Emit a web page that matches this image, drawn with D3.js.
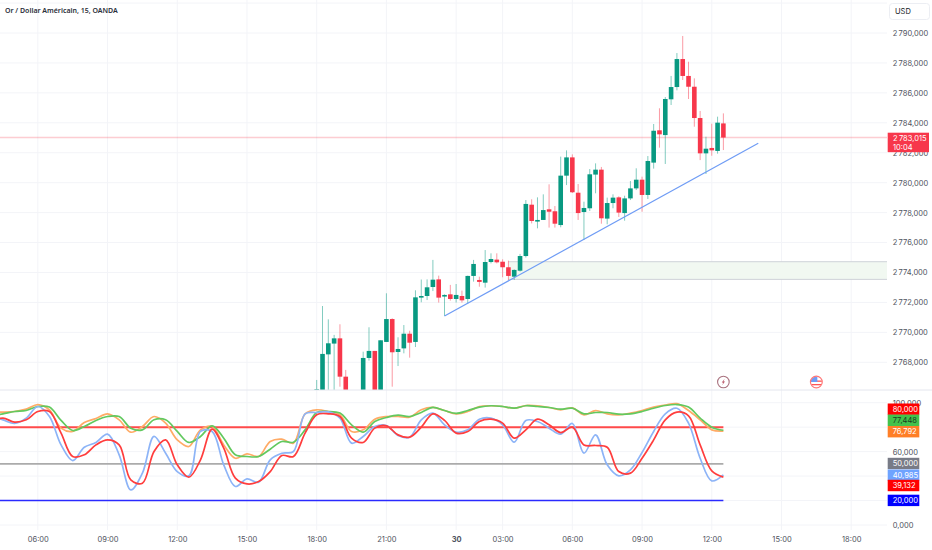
<!DOCTYPE html>
<html><head><meta charset="utf-8">
<script src="https://cdn.jsdelivr.net/npm/d3@7/dist/d3.min.js"></script>
<style>
html,body{margin:0;padding:0;background:#fff}
svg{display:block}
text{font-family:Inter,"Noto Sans",sans-serif}
</style></head><body>
<svg id="c" width="932" height="550"></svg>
<script>
// ---- data ----
const chartTitle = "Or / Dollar Américain, 15, OANDA";
const barStartIndex = 0; // 18:00 candle
const opens = [2766.1,2765.5,2768.53,2769.25,2769.6,2767.04,2765.2,2764.6,2765.3,2768.29,2768.76,2765.4,2769.36,2770.89,2768.69,2768.93,2769.91,2769.36,2772.32,2772.43,2773.03,2773.54,2772.39,2772.54,2772.23,2772.43,2772.23,2773.77,2773.5,2773.32,2774.7,2774.86,2774.72,2774.35,2773.72,2774.12,2775.1,2778.53,2777.4,2777.51,2778.22,2778.09,2777.17,2780.47,2781.69,2779.33,2778.04,2778.29,2780.54,2780.87,2777.6,2778.64,2779.02,2777.97,2778.95,2779.62,2780.2,2779.18,2781.34,2783.5,2783.18,2785.57,2786.39,2788.26,2787.13,2786.41,2784.32,2781.96,2782.32,2782.12,2783.96];
const highs = [2766.82,2771.76,2770.87,2769.83,2770.54,2767.49,2765.7,2765.9,2768.71,2770.34,2768.76,2769.47,2772.61,2770.94,2769.67,2770.49,2770.11,2772.81,2773.53,2773.54,2774.84,2773.79,2772.54,2773.17,2773.23,2772.79,2773.79,2774.84,2773.72,2775.5,2775.28,2775.28,2774.88,2774.79,2774.21,2775.24,2778.84,2778.89,2779.02,2779.22,2779.89,2778.44,2781.74,2782.16,2781.89,2779.91,2778.73,2780.91,2781.29,2781.05,2779.0,2779.22,2779.09,2779.13,2780.11,2780.96,2780.4,2781.78,2783.92,2784.97,2785.72,2787.13,2788.66,2789.8,2788.08,2786.97,2784.79,2783.07,2783.94,2784.41,2784.63];
const lows = [2765.8,2765.2,2765.0,2765.5,2766.37,2764.8,2764.2,2764.3,2765.0,2768.11,2765.0,2765.0,2769.36,2766.37,2767.75,2768.6,2768.31,2769.02,2772.01,2772.16,2772.76,2771.99,2771.09,2772.12,2771.99,2771.99,2771.94,2773.39,2773.05,2772.99,2774.61,2774.61,2773.68,2773.5,2773.5,2774.06,2775.0,2777.28,2776.95,2777.51,2777.0,2777.0,2777.02,2779.84,2779.31,2777.51,2776.17,2778.11,2779.29,2777.26,2777.22,2778.29,2777.71,2777.46,2778.84,2779.51,2778.06,2778.91,2780.94,2782.34,2781.25,2785.19,2786.17,2786.86,2785.59,2783.74,2781.51,2780.58,2781.8,2781.94,2782.18];
const closes = [2766.2,2768.56,2769.27,2769.6,2767.04,2765.2,2764.6,2765.3,2768.29,2768.76,2765.4,2769.47,2770.89,2768.67,2768.89,2769.91,2769.31,2772.34,2772.43,2773.01,2773.52,2772.32,2772.5,2772.23,2772.5,2772.14,2773.77,2774.57,2773.37,2774.7,2774.9,2774.68,2774.35,2773.77,2774.17,2775.1,2778.58,2777.44,2777.51,2778.17,2778.06,2777.26,2780.47,2781.69,2779.36,2777.97,2778.31,2780.56,2780.87,2777.62,2778.64,2779.0,2778.0,2778.95,2779.62,2780.2,2779.18,2781.45,2783.47,2783.23,2785.59,2786.39,2788.26,2787.13,2786.41,2784.32,2781.96,2782.27,2782.16,2784.01,2783.015];

const indexFirst = -56, indexStep = 2;
const stochBlue = [88.7,86,83,87.4,96.9,88.7,65.5,52.7,63.6,67.5,74.3,57.4,28.7,42.4,72.4,58.7,43.7,40.2,76.5,76.5,49.2,31.5,37.7,35,53.3,58.7,60.1,90.9,
  92,92.5,87.4,66.9,72.4,80.5,81.4,73.2,71.8,86,91.5,81.9,75.9,77.8,86.5,87.4,81.9,67.7,85.5,84.6,79.2,74.3,83,58.7,73.7,49.2,40.2,45.1,59.3,76.5,90.9,95.5,83.3,54.6,36.1,40.985];
const stochRed = [84.6,87.4,84.1,86,92.8,92.8,75.1,56,57.4,65.5,69.6,65.5,36.9,34.2,60.1,69.6,49.2,39.1,53.3,78.4,62.8,38.3,33.6,35.5,43.7,56.8,56,75.1,
  90.1,90.9,88.7,71,67.5,79.2,81.1,73.7,71.8,80,90.9,85.5,75.1,76.4,84.6,86.5,83.3,71,77.8,86.5,81.9,75.6,80,65.5,65,63.6,43.7,42.4,54.6,69.6,86,92.3,89.3,65.5,44.3,39.132];
const slowOrange = [92.3,92.3,92.8,94.7,98.5,94.2,79.2,76.5,83.8,87.1,90.9,86,75.9,80.5,88.7,83.3,69.6,64.2,77.8,80.5,65.5,54.6,58.2,56,68.3,70.2,66.9,90.9,
  94.2,92.8,90.1,76.5,77.8,86.5,88.7,88.7,88.2,94.2,96.1,93.6,90.9,92.8,96.9,97.5,96.9,95.5,97.7,97.5,96.1,94.2,95.8,90.1,93.6,90.9,90.1,91.5,93.6,96.4,98.1,99.2,93.6,86,77.8,76.792];
const slowGreen = [89.3,90.9,92.8,93.6,96.9,96.4,85.5,77.3,80.5,85.5,88.7,88.7,79.2,77.8,86,86,76.5,67.5,72.4,81.1,71,57.4,56,56,62,68.3,67.7,77.8,
  92,92.8,91.5,81.9,75.9,84.6,87.9,89.8,88.7,92,96.1,93.6,91.2,93.6,96.4,97.5,96.9,95.5,97.5,96.9,96.1,94.7,95.5,90.9,92,92,90.6,90.9,92.8,95.5,97.7,98.5,96.4,87.4,80,77.448];

const levels = [80, 50, 20];
const priceTicks = [2768,2770,2772,2774,2776,2778,2780,2782,2784,2786,2788,2790];
const priceGridOnly = [2792];
const oscTicks = [0,20,40,60,80,100];
const timeTickIdx = [-48,-36,-24,-12,0,12,24,32,44,56,68,80,92];
const timeTickLbl = ["06:00","09:00","12:00","15:00","18:00","21:00","30","03:00","06:00","09:00","12:00","15:00","18:00"];
const lastPrice = 2783.015, countdown = "10:04";
const zonePrices = [2774.72, 2773.54];
const zoneStartIdx = 33;
const trendA = [22, 2771.09], trendB = [76, 2782.63];
const oscLabels = [
  {v:80, c:"#ff0000", t:"#fff"}, {v:77.448, c:"#43c24b", t:"#1a3a1e"}, {v:76.792, c:"#ff7f27", t:"#fff"},
  {v:50, c:"#787b86", t:"#fff"}, {v:40.985, c:"#6ea3ff", t:"#fff"}, {v:39.132, c:"#ff0000", t:"#fff"},
  {v:20, c:"#0000ff", t:"#fff"}];
const oscLabelCenters = [409.2, 420.3, 431.7, 463.5, 475.2, 485.5, 500.4];

// ---- drawing ----
const W=932,H=550, axisX=887, pricePaneBottom=390, gridBottom=530, FS="7.5px";
const svg=d3.select("#c");
const x=d3.scaleLinear().domain([0,92]).range([316.7,851.2]);
const y=d3.scaleLinear().domain([2790,2768]).range([33,362.3]);
const yo=d3.scaleLinear().domain([0,100]).range([525,402.7]);
const loc=d3.formatLocale({decimal:",",thousands:"\u202f",grouping:[3],currency:["",""]});
const fp=loc.format(",.3f");
const GREEN="#089981",RED="#f7374b";

svg.append("defs").append("clipPath").attr("id","pane").append("rect").attr("x",0).attr("y",0).attr("width",axisX).attr("height",pricePaneBottom);

// grid
const g=svg.append("g").attr("stroke","#f3f4f8").attr("stroke-width",1);
g.selectAll(".v").data(timeTickIdx).join("line").attr("x1",d=>x(d)).attr("x2",d=>x(d)).attr("y1",0).attr("y2",gridBottom);
g.selectAll(".h").data(priceTicks.concat(priceGridOnly)).join("line").attr("x1",0).attr("x2",axisX).attr("y1",d=>y(d)).attr("y2",d=>y(d));
g.selectAll(".o").data(oscTicks).join("line").attr("x1",0).attr("x2",axisX).attr("y1",d=>yo(d)).attr("y2",d=>yo(d));

// zone
svg.append("rect").attr("x",x(zoneStartIdx)).attr("width",axisX-x(zoneStartIdx)).attr("y",y(zonePrices[0])).attr("height",y(zonePrices[1])-y(zonePrices[0])).attr("fill","#f1f8f1");
svg.selectAll(".zl").data(zonePrices).join("line").attr("x1",x(zoneStartIdx)).attr("x2",axisX).attr("y1",d=>y(d)).attr("y2",d=>y(d)).attr("stroke","#cfd2d8").attr("stroke-width",1);

// last price line
svg.append("line").attr("x1",0).attr("x2",axisX).attr("y1",y(lastPrice)).attr("y2",y(lastPrice)).attr("stroke","#f7374b").attr("stroke-opacity",.25).attr("stroke-width",1.4);

// candles
const cg=svg.append("g").attr("clip-path","url(#pane)");
const bars=d3.range(opens.length).map(i=>({i:i+barStartIndex,o:opens[i],h:highs[i],l:lows[i],c:closes[i]}));
cg.selectAll(".w").data(bars).join("line").attr("x1",d=>x(d.i)).attr("x2",d=>x(d.i)).attr("y1",d=>y(d.h)).attr("y2",d=>y(d.l))
  .attr("stroke",d=>d.c>=d.o?GREEN:RED).attr("stroke-opacity",.5).attr("stroke-width",1);
cg.selectAll(".b").data(bars).join("rect").attr("x",d=>x(d.i)-2.3).attr("width",4.6)
  .attr("y",d=>y(Math.max(d.o,d.c))).attr("height",d=>Math.max(1,Math.abs(y(d.o)-y(d.c))))
  .attr("fill",d=>d.c>=d.o?GREEN:RED);

// trend line
svg.append("line").attr("x1",x(trendA[0])).attr("y1",y(trendA[1])).attr("x2",x(trendB[0])).attr("y2",y(trendB[1])).attr("stroke","#6f9cf5").attr("stroke-width",1.2);

// pane separator
svg.append("line").attr("x1",0).attr("x2",W).attr("y1",pricePaneBottom).attr("y2",pricePaneBottom).attr("stroke","#e4e6ee").attr("stroke-width",1);

// oscillator levels
const lastIdx=indexFirst+indexStep*(stochBlue.length-1);
const levelColor={80:"#ff4a4a",50:"#ababab",20:"#2a2aff"};
svg.selectAll(".lv").data(levels).join("line").attr("x1",0).attr("x2",x(lastIdx)).attr("y1",d=>yo(d)).attr("y2",d=>yo(d))
  .attr("stroke",d=>levelColor[d]).attr("stroke-width",d=>d===80?2:1.6);

// oscillator lines
const line=d3.line().x((d,i)=>x(indexFirst+indexStep*i)).y(d=>yo(d)).curve(d3.curveCatmullRom.alpha(0.5));
[[slowOrange,"#ffab66"],[slowGreen,"#62c95f"],[stochBlue,"#8db4f7"],[stochRed,"#ff3d3d"]].forEach(([a,c])=>{
  svg.append("path").attr("d",line(a)).attr("fill","none").attr("stroke",c).attr("stroke-width",1.7).attr("stroke-linejoin","round");
});

// icons
const ic=svg.append("g").attr("transform",`translate(${x(70)},382)`);
ic.append("circle").attr("r",5.8).attr("fill","#fff").attr("stroke","#a9727f").attr("stroke-width",1.1);
ic.append("path").attr("d","M1.3,-3.2 L-1.6,0.6 L0,0.6 L-1.3,3.2 L1.6,-0.6 L0,-0.6 Z").attr("fill","#b3475a");
const fl=svg.append("g").attr("transform",`translate(${x(86)},382)`);
fl.append("clipPath").attr("id","flag").append("circle").attr("r",5.6);
const fc=fl.append("g").attr("clip-path","url(#flag)");
fc.append("rect").attr("x",-6).attr("y",-6).attr("width",12).attr("height",12).attr("fill","#fff");
fc.append("rect").attr("x",-6).attr("y",-1.5).attr("width",12).attr("height",1.3).attr("fill","#f55");
fc.append("rect").attr("x",-6).attr("y",2).attr("width",12).attr("height",1.3).attr("fill","#f55");
fc.append("rect").attr("x",-6).attr("y",-6).attr("width",7).attr("height",6).attr("fill","#6f9cf5");
fl.append("circle").attr("r",5.9).attr("fill","none").attr("stroke","#f77").attr("stroke-width",1.2);

// axes
const axisStyle=s=>{s.select(".domain").remove();s.selectAll(".tick line").remove();
  s.selectAll("text").attr("fill","#50535e").style("font-size",FS).style("font-family","Inter,'Noto Sans',sans-serif");};
svg.append("g").attr("transform",`translate(${axisX},0)`).call(d3.axisRight(y).tickValues(priceTicks).tickFormat(fp).tickSize(0).tickPadding(5.7)).call(axisStyle);
svg.append("g").attr("transform",`translate(${axisX},0)`).call(d3.axisRight(yo).tickValues(oscTicks).tickFormat(fp).tickSize(0).tickPadding(5.7)).call(axisStyle);
svg.append("g").attr("transform",`translate(0,529)`).call(d3.axisBottom(x).tickValues(timeTickIdx).tickFormat((d,i)=>timeTickLbl[i]).tickSize(0).tickPadding(8)).call(axisStyle)
  .selectAll("text").style("font-weight",(d,i)=>timeTickLbl[i]==="30"?700:400);

// oscillator value labels
const lb=svg.selectAll(".ol").data(oscLabels).join("g").attr("transform",(d,i)=>`translate(887.7,${oscLabelCenters[i]})`);
lb.append("rect").attr("x",0).attr("y",-5.7).attr("width",31.6).attr("height",11.4).attr("fill",d=>d.c);
lb.append("text").attr("x",5).attr("dy","0.36em").attr("fill",d=>d.t).style("font-size",FS).text(d=>fp(d.v));

// last price label
svg.append("rect").attr("x",887.7).attr("y",132.7).attr("width",41.3).attr("height",19.5).attr("fill","#f7374b");
svg.append("text").attr("x",893).attr("y",140.5).attr("fill","#fff").style("font-size",FS).text(fp(lastPrice));
svg.append("text").attr("x",893).attr("y",149.5).attr("fill","#fff").style("font-size",FS).text(countdown);

// USD box
svg.append("rect").attr("x",889.5).attr("y",3.5).attr("width",40).attr("height",16).attr("rx",3).attr("fill","#fff").attr("stroke","#eceef3");
svg.append("text").attr("x",895).attr("y",13.5).attr("fill","#131722").style("font-size",FS).text("USD");

// title
svg.append("text").attr("x",5).attr("y",13).attr("fill","#2a2e39").style("font-size","7px").style("font-weight",600).style("font-family","'Noto Sans',sans-serif").text(chartTitle);
</script>
</body></html>
